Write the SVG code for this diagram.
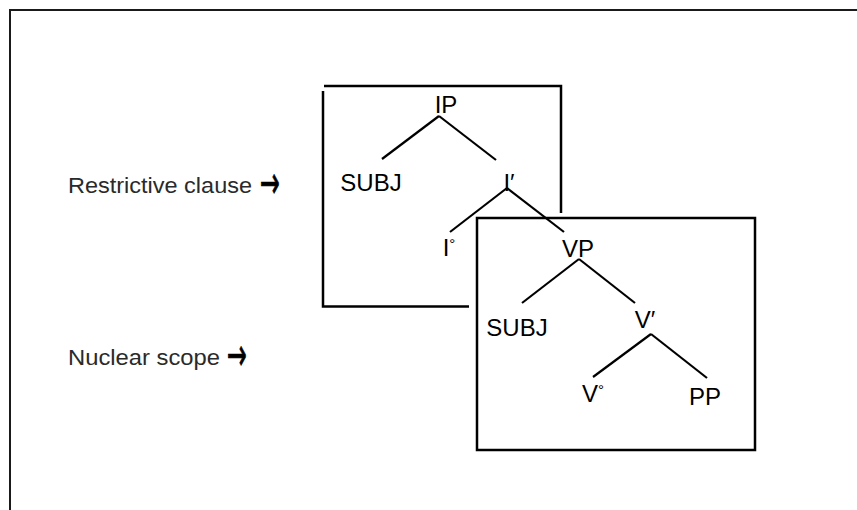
<svg xmlns="http://www.w3.org/2000/svg" width="857" height="510" viewBox="0 0 857 510">
<style>
.frame{fill:none;stroke:#1a1a1a;stroke-width:2}
.box{fill:none;stroke:#000;stroke-width:2.5}
.edge{stroke:#000;stroke-width:2.2;stroke-linecap:butt}
.lbl{font-family:"Liberation Sans",Arial,sans-serif;font-size:24px;fill:#000;text-anchor:middle}
.deg{font-size:15px}
.side{font-family:"Liberation Sans",Arial,sans-serif;font-size:22.5px;fill:#2a2a2a}
.arr{font-family:"DejaVu Sans",sans-serif;font-size:28px;fill:#000;stroke:#000;stroke-width:0.5}
</style>
<rect width="857" height="510" fill="#fff"/>
<path class="frame" d="M10,520 V10 H870"/>
<g id="restrictive-box">
<path class="box" d="M324,86 H561 V213"/>
<path class="box" d="M323,91 V306.5 H469"/>
</g>
<g id="nuclear-box">
<rect class="box" x="477" y="218" width="278" height="232"/>
</g>
<g id="connectors">
<line class="edge" x1="439" y1="116" x2="382" y2="159"/>
<line class="edge" x1="439" y1="116" x2="496" y2="160"/>
<line class="edge" x1="507" y1="188" x2="450" y2="232"/>
<line class="edge" x1="507" y1="188" x2="564" y2="232"/>
<line class="edge" x1="579" y1="259" x2="522" y2="303"/>
<line class="edge" x1="579" y1="259" x2="635" y2="303"/>
<line class="edge" x1="651" y1="334" x2="593" y2="377"/>
<line class="edge" x1="651" y1="334" x2="707" y2="378"/>
</g>
<g id="node-IP"><text class="lbl" x="446" y="113">IP</text></g>
<g id="node-SUBJ1"><text class="lbl" x="371" y="191">SUBJ</text></g>
<g id="node-Ibar"><text class="lbl" x="509" y="191">I′</text></g>
<g id="node-I0"><text class="lbl" x="449" y="256">I<tspan class="deg" dy="-7">°</tspan></text></g>
<g id="node-VP"><text class="lbl" x="578" y="257">VP</text></g>
<g id="node-SUBJ2"><text class="lbl" x="517" y="336">SUBJ</text></g>
<g id="node-Vbar"><text class="lbl" x="645" y="328">V′</text></g>
<g id="node-V0"><text class="lbl" x="593" y="402">V<tspan class="deg" dy="-7">°</tspan></text></g>
<g id="node-PP"><text class="lbl" x="705" y="405">PP</text></g>
<g id="label-restrictive"><text class="side" x="68" y="193" textLength="184" lengthAdjust="spacingAndGlyphs">Restrictive clause</text><text class="arr" transform="translate(260,184) scale(0.85,1.6)" x="0" y="8.5">→</text></g>
<g id="label-nuclear"><text class="side" x="68" y="365" textLength="152" lengthAdjust="spacingAndGlyphs">Nuclear scope</text><text class="arr" transform="translate(227,356) scale(0.85,1.6)" x="0" y="8.5">→</text></g>
</svg>
